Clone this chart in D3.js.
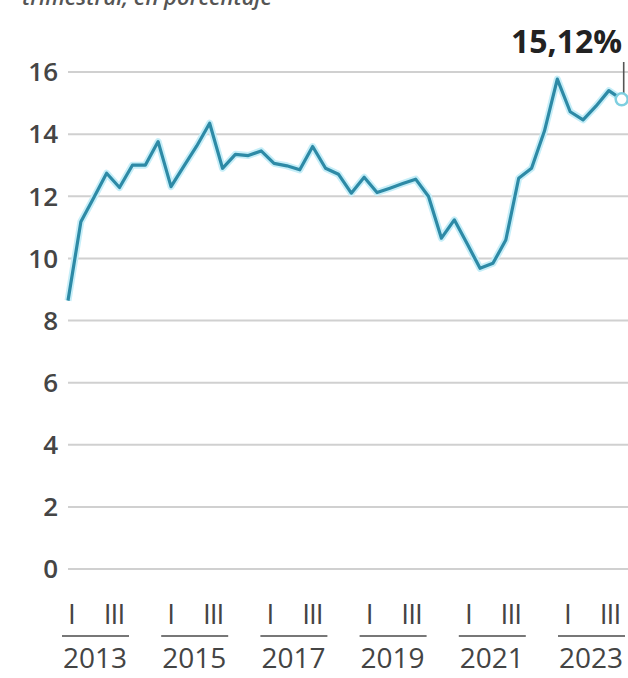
<!DOCTYPE html>
<html><head><meta charset="utf-8">
<script src="https://cdn.jsdelivr.net/npm/d3@7"></script>
<style>
html,body{margin:0;padding:0;background:#fff;}
svg{display:block;font-family:"Open Sans",sans-serif;}
</style></head>
<body><svg id="c" width="628" height="678"></svg>
<script>
// Quarterly values 2013 Q1 – 2023 Q4 (percent)
const quarters = d3.range(44).map(i => `${2013 + Math.floor(i/4)}T${i%4+1}`);
const values = [8.64, 11.18, 11.95, 12.74, 12.28, 13.0, 13.0, 13.76,
  12.31, 12.97, 13.62, 14.35, 12.9, 13.35, 13.31, 13.46,
  13.06, 12.98, 12.85, 13.6, 12.9, 12.71, 12.1, 12.61,
  12.12, 12.26, 12.41, 12.55, 11.99, 10.65, 11.24, 10.47,
  9.68, 9.84, 10.59, 12.58, 12.9, 14.1, 15.77, 14.72,
  14.46, 14.9, 15.4, 15.12];
const yTicks = [0, 2, 4, 6, 8, 10, 12, 14, 16];
const yearLabels = ["2013", "2015", "2017", "2019", "2021", "2023"];
const quarterLabels = ["I", "III"];
const lastLabel = "15,12%";
const subtitle = "trimestral, en porcentaje";

const svg = d3.select("#c");
const x = d3.scaleLinear().domain([0, 43]).range([68, 621.7]);
const y = d3.scaleLinear().domain([0, 16]).range([569, 72]);
// label placement scale (year groups)
const xl = d3.scaleLinear().domain([2013, 2023]).range([72, 568]);

svg.append("text").attr("x", 22).attr("y", 5).attr("font-size", 22)
  .attr("font-weight", 600).attr("font-style", "italic").attr("fill", "#555").text(subtitle);

// gridlines
svg.append("g").selectAll("line").data(yTicks).join("line")
  .attr("x1", 68).attr("x2", 628).attr("y1", d => y(d)).attr("y2", d => y(d))
  .attr("stroke", "#d0d0d0").attr("stroke-width", 2);

svg.append("g").selectAll("text").data(yTicks).join("text")
  .attr("x", 58).attr("y", d => y(d)).attr("dy", "0.36em")
  .attr("text-anchor", "end").attr("font-size", 26).attr("font-weight", 600)
  .attr("fill", "#454545").text(d => d);

// line
const line = d3.line().x((d, i) => x(i)).y(d => y(d));
svg.append("path").datum(values).attr("d", line).attr("fill", "none")
  .attr("stroke", "#c6eef8").attr("stroke-width", 7).attr("stroke-linejoin", "round");
svg.append("path").datum(values).attr("d", line).attr("fill", "none")
  .attr("stroke", "#2d8aa6").attr("stroke-width", 3.2).attr("stroke-linejoin", "round");

// last point annotation
const li = values.length - 1;
svg.append("line").attr("x1", x(li) + 2).attr("x2", x(li) + 2)
  .attr("y1", 62).attr("y2", y(values[li]) - 5).attr("stroke", "#555").attr("stroke-width", 1.6);
svg.append("circle").attr("cx", x(li)).attr("cy", y(values[li])).attr("r", 6)
  .attr("fill", "#fff").attr("stroke", "#7fcfe0").attr("stroke-width", 2.5);
svg.append("text").attr("x", 511).attr("y", 53).attr("font-size", 32)
  .attr("font-weight", 700).attr("fill", "#222").text(lastLabel);

// x axis labels
const g = svg.append("g").selectAll("g").data(yearLabels).join("g");
g.append("text").attr("x", d => xl(+d)).attr("y", 624).attr("text-anchor", "middle")
  .attr("font-size", 28).attr("fill", "#444").text(quarterLabels[0]);
g.append("text").attr("x", d => xl(+d) + 42).attr("y", 624).attr("text-anchor", "middle")
  .attr("font-size", 28).attr("fill", "#444").attr("letter-spacing", -1).text(quarterLabels[1]);
g.append("line").attr("x1", d => xl(+d) - 10).attr("x2", d => xl(+d) + 57)
  .attr("y1", 636).attr("y2", 636).attr("stroke", "#777").attr("stroke-width", 2);
g.append("text").attr("x", d => xl(+d) + 23).attr("y", 668).attr("text-anchor", "middle")
  .attr("font-size", 28).attr("fill", "#444").text(d => d);
</script></body></html>
